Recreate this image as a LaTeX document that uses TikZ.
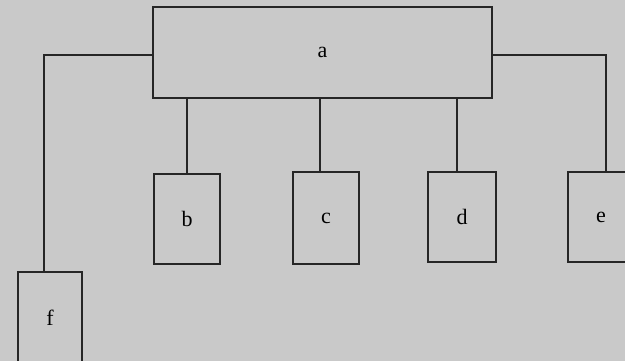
\documentclass[tikz,border=0pt]{standalone}
\usepackage{fontspec}
\setmainfont{Liberation Serif}
\begin{document}
\begin{tikzpicture}[x=1pt,y=-1pt,
  box/.style={draw=black!85,line width=1.4pt,inner sep=0pt,font=\fontsize{22}{26}\selectfont},
  conn/.style={draw=black!85,line width=1.2pt}]
\fill[gray!42] (0,0) rectangle (625,361);
\clip (0,0) rectangle (625,361);
\node[box,minimum width=339pt,minimum height=91pt] (a) at (322.5,52.5) {a};
\node[box,minimum width=66pt,minimum height=90pt] (b) at (187,219) {b};
\node[box,minimum width=66pt,minimum height=92pt] (c) at (326,218) {c};
\node[box,minimum width=68pt,minimum height=90pt] (d) at (462,217) {d};
\node[box,minimum width=66pt,minimum height=90pt] (e) at (601,217) {e};
\node[box,minimum width=64pt,minimum height=92pt] (f) at (50,318) {f};
\draw[conn] (a.west |- 0,55) -- (44,55) -- (f.north -| 44,0);
\draw[conn] (a.east |- 0,55) -- (606,55) -- (e.north -| 606,0);
\draw[conn] (a.south -| 187,0) -- (b.north -| 187,0);
\draw[conn] (a.south -| 320,0) -- (c.north -| 320,0);
\draw[conn] (a.south -| 457,0) -- (d.north -| 457,0);
\end{tikzpicture}
\end{document}
